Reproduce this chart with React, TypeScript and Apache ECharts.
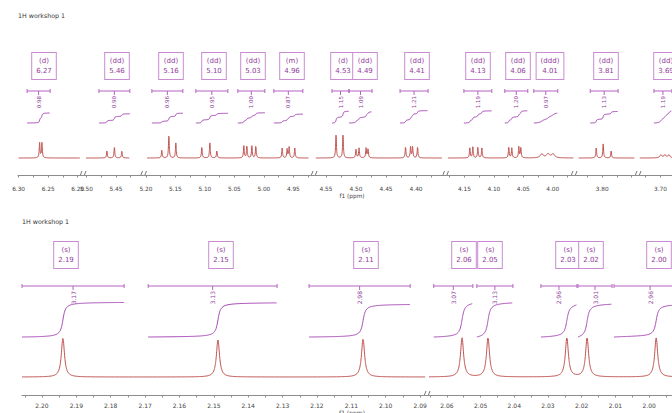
import React, { useEffect, useRef } from 'react';
import * as echarts from 'echarts';

// ---------------- DATA ----------------
// Top panel: displayed f1 windows (ppm, left edge -> right edge)
const topSegments: [number, number][] = [
  [6.301, 6.191], [5.506, 5.403], [5.204, 4.915], [4.570, 4.351], [4.182, 3.964], [3.848, 3.739], [3.738, 3.633],
];
// ppm range over which the trace is plotted inside each window
const topSpectrumRanges: [number, number][] = [
  [6.300, 6.196], [5.501, 5.426], [5.198, 4.924], [4.567, 4.357], [4.178, 3.965], [3.840, 3.744], [3.735, 3.633],
];
const topTickLabels = [6.30, 6.25, 6.20, 5.50, 5.45, 5.20, 5.15, 5.10, 5.05, 5.00, 4.95, 4.55, 4.50, 4.45, 4.40, 4.15, 4.10, 4.05, 4.00, 3.80, 3.70];
const topMinorTicks = [6.275, 6.225, 5.475, 5.425, 5.175, 5.125, 5.075, 5.025, 4.975, 4.925, 4.525, 4.475, 4.425, 4.375, 4.175, 4.125, 4.075, 4.025, 3.975, 3.825, 3.775, 3.75, 3.725, 3.675];
// lines: [ppm, intensity, half width at half height (ppm)]
const topPeaks: [number, number, number][] = [
  [6.2644, 15, 0.0008], [6.2605, 15, 0.0008],
  [5.4653, 7, 0.0008], [5.4525, 11, 0.0008], [5.4398, 7, 0.0008],
  [5.1729, 8, 0.0008], [5.1610, 22, 0.0008], [5.1492, 15, 0.0008],
  [5.1051, 11, 0.0008], [5.0915, 15, 0.0008], [5.0797, 7, 0.0008],
  [5.0339, 12, 0.0008], [5.0288, 12, 0.0008], [5.0203, 12, 0.0008], [5.0136, 12, 0.0008],
  [4.9690, 10, 0.0008], [4.9605, 9, 0.0008], [4.9571, 11, 0.0008], [4.9475, 10, 0.0008],
  [4.5333, 23, 0.0008], [4.5217, 23, 0.0008],
  [4.5000, 9, 0.0008], [4.4950, 10, 0.0008], [4.4833, 10, 0.0008], [4.4800, 9, 0.0008],
  [4.4175, 11, 0.0008], [4.4092, 11, 0.0008], [4.4058, 11, 0.0008], [4.3975, 11, 0.0008],
  [4.1407, 10, 0.0008], [4.1356, 11, 0.0008], [4.1271, 11, 0.0008], [4.1203, 10, 0.0008],
  [4.0746, 11, 0.0008], [4.0695, 10, 0.0008], [4.0576, 11, 0.0008], [4.0542, 10, 0.0008],
  [4.0186, 4, 0.003], [4.0080, 4, 0.003], [3.9995, 4, 0.003],
  [3.8102, 10, 0.0008], [3.7983, 14, 0.0008], [3.7847, 7, 0.0008],
  [3.6992, 3, 0.002], [3.6924, 3, 0.002], [3.6856, 3, 0.002],
];
// integrals: [from ppm, to ppm, normalised value]
const topIntegrals: [number, number, number][] = [
  [6.2856, 6.2466, 0.98], [5.4788, 5.4263, 0.90], [5.1898, 5.1373, 0.96], [5.1153, 5.0610, 0.95],
  [5.0441, 4.9983, 1.00], [4.9831, 4.9339, 0.87], [4.5400, 4.5117, 1.15], [4.5117, 4.4733, 1.09],
  [4.4267, 4.3800, 1.21], [4.1508, 4.1034, 1.19], [4.0814, 4.0424, 1.20], [4.0322, 3.9915, 0.97],
  [3.8203, 3.7729, 1.13], [3.7110, 3.6805, 1.19],
];
// multiplet labels: [label ppm, multiplicity, shift]
const topMultiplets: [number, string, string][] = [
  [6.2576, 'd', '6.27'], [5.4488, 'dd', '5.46'], [5.1571, 'dd', '5.16'], [5.0851, 'dd', '5.10'],
  [5.0192, 'dd', '5.03'], [4.9517, 'm', '4.96'], [4.5225, 'd', '4.53'], [4.4850, 'dd', '4.49'],
  [4.3992, 'dd', '4.41'], [4.1266, 'dd', '4.13'], [4.0597, 'dd', '4.06'], [4.0051, 'ddd', '4.01'],
  [3.7936, 'dd', '3.81'], [3.6898, 'dd', '3.69'],
];

// Bottom panel
const bottomSegments: [number, number][] = [[2.2058, 2.0880], [2.0659, 1.9849]];
const bottomSpectrumRanges: [number, number][] = [[2.2058, 2.0885], [2.0653, 1.9849]];
const bottomTickLabels = [2.20, 2.19, 2.18, 2.17, 2.16, 2.15, 2.14, 2.13, 2.12, 2.11, 2.10, 2.09, 2.06, 2.05, 2.04, 2.03, 2.02, 2.01, 2.00];
const bottomMinorTicks = [2.205, 2.195, 2.185, 2.175, 2.165, 2.155, 2.145, 2.135, 2.125, 2.115, 2.105, 2.095, 2.065, 2.055, 2.045, 2.035, 2.025, 2.015, 2.005, 1.995, 1.99];
const bottomPeaks: [number, number, number][] = [
  [2.1939, 39, 0.00055], [2.1488, 37, 0.00055], [2.1066, 38, 0.00055], [2.0555, 39, 0.00055],
  [2.0478, 39, 0.00055], [2.0244, 39, 0.00055], [2.0184, 39, 0.00055], [1.9979, 39, 0.00055],
];
const bottomIntegrals: [number, number, number][] = [
  [2.2058, 2.1761, 3.17], [2.1691, 2.1316, 3.13], [2.1223, 2.0929, 2.98], [2.0639, 2.0523, 3.07],
  [2.0511, 2.0404, 3.13], [2.0321, 2.0214, 2.96], [2.0211, 2.0110, 3.01], [2.0104, 1.9890, 2.96],
];
const bottomMultiplets: [number, string, string][] = [
  [2.1929, 's', '2.19'], [2.1479, 's', '2.15'], [2.1057, 's', '2.11'], [2.0550, 's', '2.06'],
  [2.0471, 's', '2.05'], [2.0241, 's', '2.03'], [2.0172, 's', '2.02'], [1.9971, 's', '2.00'],
];

const TITLE = '1H workshop 1';
const X_NAME = 'f1 (ppm)';

// ---------------- LAYOUT / STYLE ----------------
const FONT = 'DejaVu Sans';
const C_SPEC = '#bd4f4c';
const C_INT = '#a84cb6';
const C_BRACKET = '#b563c2';
const C_BOX = '#c98bd2';
const C_BOXTEXT = '#8f3b9b';
const C_AXIS = '#8c8c8c';
const C_LABEL = '#444';

interface PanelLayout {
  bounds: number[]; gridTop: number; axisY: number; baselineY: number; integBaseY: number;
  integPxPerUnit: number; bracketY: number; boxTop: number; labelFont: number; labelMargin: number;
  integFont: number; sampleStep: number; title: [number, number]; xName: [number, number];
}

const TOP_L: PanelLayout = {
  bounds: [18, 83, 143.5, 314, 445.5, 574, 638, 700], gridTop: 30, axisY: 175, baselineY: 158,
  integBaseY: 123, integPxPerUnit: 10.2, bracketY: 91, boxTop: 53, labelFont: 5.8, labelMargin: 10.5,
  integFont: 5.5, sampleStep: 0.0001, title: [18, 15], xName: [352, 196],
};
const BOT_L: PanelLayout = {
  bounds: [22, 427, 700], gridTop: 225, axisY: 395, baselineY: 377, integBaseY: 337,
  integPxPerUnit: 10.9, bracketY: 286, boxTop: 242, labelFont: 6, labelMargin: 7,
  integFont: 6, sampleStep: 0.00004, title: [22, 221], xName: [352, 412],
};

function lorentz(peaks: [number, number, number][], x: number) {
  let s = 0;
  for (const [p, h, w] of peaks) { const d = x - p; s += (h * w * w) / (d * d + w * w); }
  return s;
}
// area of the trace between a (high ppm) and x (lower ppm)
function area(peaks: [number, number, number][], a: number, x: number) {
  let s = 0;
  for (const [p, h, w] of peaks) s += h * w * (Math.atan((a - p) / w) - Math.atan((x - p) / w));
  return s;
}

function buildPanel(
  segments: [number, number][], spectrumRanges: [number, number][], tickLabels: number[], minorTicks: number[],
  peaks: [number, number, number][], integrals: [number, number, number][], multiplets: [number, string, string][],
  L: PanelLayout, opt: any,
) {
  const H = L.axisY - L.gridTop;
  segments.forEach(([hi, lo], i) => {
    const g = opt.grid.length;
    const xi = opt.xAxis.length;
    const yi = opt.yAxis.length;
    const left = L.bounds[i];
    const right = L.bounds[i + 1];
    const inSeg = (v: number) => v <= hi + 1e-9 && v >= lo - 1e-9;
    opt.grid.push({ left, top: L.gridTop, width: right - left, height: H, outerBoundsMode: 'none', containLabel: false });
    const labels = tickLabels.filter(inSeg);
    const ticks = tickLabels.concat(minorTicks).filter(inSeg);
    opt.xAxis.push({
      gridIndex: g, type: 'value', inverse: true, min: lo, max: hi,
      axisLine: { show: true, onZero: false, lineStyle: { color: C_AXIS, width: 1 } },
      axisTick: { show: true, customValues: ticks, length: 2.5, lineStyle: { color: C_AXIS, width: 1 } },
      axisLabel: {
        customValues: labels, formatter: (v: number) => v.toFixed(2), fontSize: L.labelFont,
        fontFamily: FONT, color: C_LABEL, margin: L.labelMargin, hideOverlap: false,
      },
      splitLine: { show: false },
    });
    const sMin = -(L.axisY - L.baselineY);
    opt.yAxis.push({ gridIndex: g, type: 'value', show: false, min: sMin, max: sMin + H });
    const iMin = -(L.axisY - L.integBaseY) / L.integPxPerUnit;
    opt.yAxis.push({ gridIndex: g, type: 'value', show: false, min: iMin, max: iMin + H / L.integPxPerUnit });

    // spectrum trace
    const [sh, sl] = spectrumRanges[i];
    const n = Math.round((sh - sl) / L.sampleStep);
    const data: number[][] = [];
    for (let k = 0; k <= n; k++) { const x = sh - (sh - sl) * k / n; data.push([x, lorentz(peaks, x)]); }
    opt.series.push({
      type: 'line', xAxisIndex: xi, yAxisIndex: yi, data, symbol: 'none', showSymbol: false,
      lineStyle: { color: C_SPEC, width: 1 }, clip: true, silent: true, z: 3,
    });

    // integral curves
    const segInts = integrals.filter((it) => inSeg((it[0] + it[1]) / 2));
    segInts.forEach(([a, b, v]) => {
      const total = area(peaks, a, b);
      const pts: number[][] = [];
      const N = 260;
      for (let k = 0; k <= N; k++) { const x = a + (b - a) * k / N; pts.push([x, v * area(peaks, a, x) / total]); }
      opt.series.push({
        type: 'line', xAxisIndex: xi, yAxisIndex: yi + 1, data: pts, symbol: 'none', showSymbol: false,
        lineStyle: { color: C_INT, width: 1 }, silent: true, z: 3,
      });
    });

    // integral brackets + values
    opt.series.push({
      type: 'custom', xAxisIndex: xi, yAxisIndex: yi, silent: true, z: 4,
      data: segInts.map((it) => [it[0], it[1], it[2]]),
      renderItem: (_p: any, api: any) => {
        const x1 = api.coord([api.value(0), 0])[0];
        const x2 = api.coord([api.value(1), 0])[0];
        const cx = (x1 + x2) / 2;
        const y = L.bracketY;
        const st = { stroke: C_BRACKET, lineWidth: 1 };
        return {
          type: 'group',
          children: [
            { type: 'line', shape: { x1, y1: y, x2, y2: y }, style: st },
            { type: 'line', shape: { x1, y1: y - 2, x2: x1, y2: y + 2 }, style: st },
            { type: 'line', shape: { x1: x2, y1: y - 2, x2, y2: y + 2 }, style: st },
            { type: 'line', shape: { x1: cx, y1: y, x2: cx, y2: y + 4 }, style: st },
            {
              type: 'text', x: cx, y: y + 5, rotation: Math.PI / 2,
              style: {
                text: Number(api.value(2)).toFixed(2), align: 'right', verticalAlign: 'middle',
                fontSize: L.integFont, fontFamily: FONT, fill: C_BOXTEXT,
              },
            },
          ],
        };
      },
    });

    // multiplet boxes
    const segMult = multiplets.filter((m) => inSeg(m[0]));
    opt.series.push({
      type: 'custom', xAxisIndex: xi, yAxisIndex: yi, silent: true, z: 5,
      data: segMult.map((m) => [m[0], 0]),
      renderItem: (params: any, api: any) => {
        const m = segMult[params.dataIndex];
        const x = api.coord([api.value(0), 0])[0];
        return {
          type: 'text', x: Math.round(x), y: L.boxTop,
          style: {
            text: `(${m[1]})\n${m[2]}`, align: 'center', verticalAlign: 'top',
            fontSize: 7, fontFamily: FONT, fill: C_BOXTEXT, lineHeight: 10, padding: [3, 4],
            backgroundColor: '#ffffff', borderColor: C_BOX, borderWidth: 1,
          },
        };
      },
    });
  });

  // titles, axis name, break marks
  opt.graphic.push({
    type: 'text', x: L.title[0], y: L.title[1],
    style: { text: TITLE, fontSize: 6.3, fontFamily: FONT, fill: '#333', verticalAlign: 'middle' },
  });
  opt.graphic.push({
    type: 'text', x: L.xName[0], y: L.xName[1],
    style: { text: X_NAME, fontSize: L.labelFont, fontFamily: FONT, fill: C_LABEL, align: 'center', verticalAlign: 'middle' },
  });
  for (let i = 1; i < segments.length; i++) {
    const bx = L.bounds[i];
    const st = { stroke: '#777', lineWidth: 1 };
    opt.graphic.push({ type: 'line', shape: { x1: bx - 3, y1: L.axisY + 1, x2: bx - 1, y2: L.axisY - 4 }, style: st });
    opt.graphic.push({ type: 'line', shape: { x1: bx + 1, y1: L.axisY + 1, x2: bx + 3, y2: L.axisY - 4 }, style: st });
  }
}

function buildOption() {
  const opt: any = {
    animation: false,
    textStyle: { fontFamily: FONT },
    grid: [], xAxis: [], yAxis: [], series: [], graphic: [],
  };
  buildPanel(topSegments, topSpectrumRanges, topTickLabels, topMinorTicks, topPeaks, topIntegrals, topMultiplets, TOP_L, opt);
  buildPanel(bottomSegments, bottomSpectrumRanges, bottomTickLabels, bottomMinorTicks, bottomPeaks, bottomIntegrals, bottomMultiplets, BOT_L, opt);
  return opt;
}

export default function App() {
  const ref = useRef<HTMLDivElement>(null);
  useEffect(() => {
    const chart = echarts.init(ref.current!, null, { renderer: 'svg' });
    chart.setOption(buildOption());
    return () => chart.dispose();
  }, []);
  return (
    <div
      ref={ref}
      style={{ position: 'fixed', left: 0, top: 0, width: 672, height: 413, background: '#fff' }}
    />
  );
}
